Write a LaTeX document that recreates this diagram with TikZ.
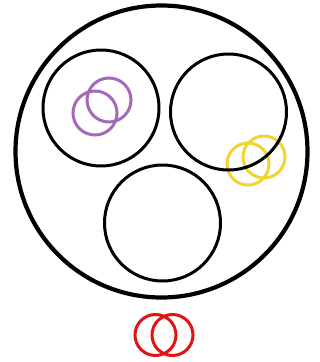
\documentclass[tikz,border=0pt]{standalone}
\begin{document}
\begin{tikzpicture}[x=1pt,y=-1pt,
  ring/.style={draw=black,line width=3pt},
  bigring/.style={draw=black,line width=4.2pt},
  purplering/.style={draw={rgb,255:red,165;green,105;blue,185},line width=3pt},
  yellowring/.style={draw={rgb,255:red,240;green,212;blue,50},line width=3pt},
  redring/.style={draw={rgb,255:red,225;green,20;blue,20},line width=3pt}]
\useasboundingbox[fill=white] (0,0) rectangle (320,362);
\draw[bigring] (161.5,151.5) circle[radius=146];
\draw[yellowring] (248,164) circle[radius=21];
\draw[yellowring] (264,157) circle[radius=21];
\draw[ring] (101,108) circle[radius=58];
\draw[ring] (228.5,112) circle[radius=58];
\draw[ring] (162.5,223) circle[radius=58];
\draw[purplering] (109,100) circle[radius=22];
\draw[purplering] (95,113) circle[radius=22];
\draw[redring] (155.5,335) circle[radius=20.5];
\draw[redring] (172.5,335) circle[radius=20.5];
\end{tikzpicture}
\end{document}
